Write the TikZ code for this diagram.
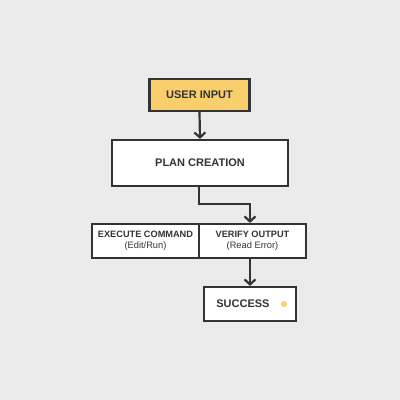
\documentclass[tikz,border=0pt]{standalone}
\usepackage{fontspec}
\setmainfont{Liberation Sans}
\usetikzlibrary{arrows.meta}
\definecolor{bg}{HTML}{EBEBEB}
\definecolor{ink}{HTML}{333333}
\definecolor{yel}{HTML}{F8CF6C}
\tikzset{
  box/.style={draw=ink, line width=2.2pt, fill=white, text=ink, font=\bfseries\fontsize{11}{13}\selectfont, inner sep=0pt},
  sub/.style={font=\bfseries\fontsize{9.2}{11}\selectfont},
  conn/.style={draw=ink, line width=2.2pt, -{Straight Barb[length=5pt,width=11pt,line width=2.2pt]}},
}
\newcommand{\subtxt}[1]{{\mdseries\fontsize{9.3}{11}\selectfont #1}}
\begin{document}
\begin{tikzpicture}[x=1pt,y=-1pt]
\fill[bg] (0,0) rectangle (400,400);
\useasboundingbox (0,0) rectangle (400,400);
\node[box, fill=yel, minimum width=100pt, minimum height=32pt] (user) at (199.5,95) {USER INPUT};
\node[box, minimum width=176pt, minimum height=46pt] (plan) at (200,163) {PLAN CREATION};
\node[box, sub, minimum width=107pt, minimum height=34pt, align=center] (exec) at (145.5,241) {EXECUTE COMMAND\\[0pt]\subtxt{(Edit/Run)}};
\node[box, sub, minimum width=107pt, minimum height=34pt, align=center] (verify) at (252.5,241) {VERIFY OUTPUT\\[0pt]\subtxt{(Read Error)}};
\node[box, minimum width=92pt, minimum height=34pt] (succ) at (250,304) {};
\node[text=ink, font=\bfseries\fontsize{11}{13}\selectfont] (succt) at (243,304) {SUCCESS};
\fill[yel] (284,304) circle (3pt);
\coordinate (bend1) at (199,204);
\coordinate (bend2) at (250,204);
\draw[conn] (user.south) -- (plan.north);
\draw[conn] (plan.south -| bend1) -- (bend1) -- (bend2) -- (bend2 |- verify.north);
\draw[conn] (verify.south -| succ.north) -- (succ.north);
\end{tikzpicture}
\end{document}
